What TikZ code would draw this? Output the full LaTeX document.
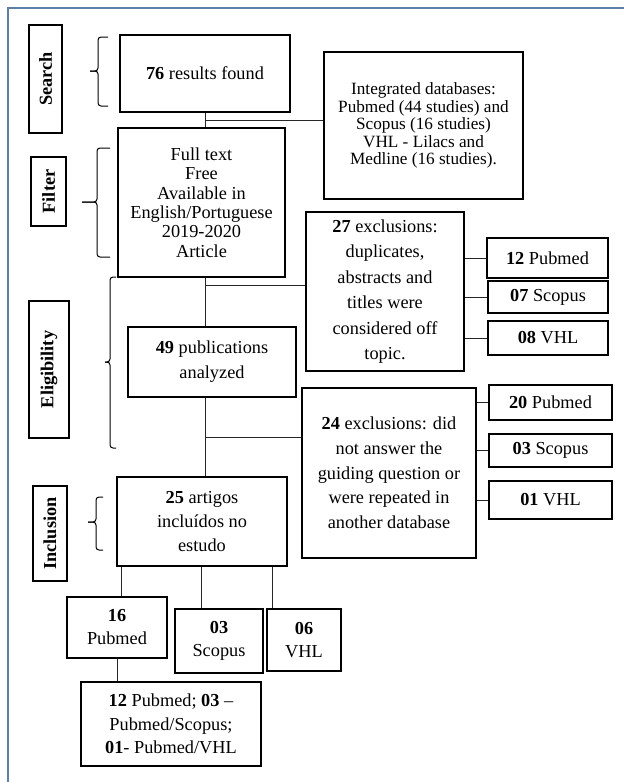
\documentclass[tikz,border=0pt]{standalone}
\usepackage{fontspec}
\setmainfont{Liberation Serif}
\usetikzlibrary{calc}
\definecolor{frameblue}{RGB}{91,127,166}
\newcommand\fsz[1]{\fontsize{18.3}{#1}\selectfont}
\newcommand\mybrace[6]{%
  \draw[bracestyle] (#2,#4) -- (#1,#4) -- (#1,#5) -- (#3,#5);
  \draw[bracestyle] (#3,#5) -- (#1,#5) -- (#1,#6) -- (#2,#6);}
\tikzset{
  box/.style={draw=black, line width=1.2pt, fill=white, inner sep=0pt, align=center, font=\fsz{25}},
  lbl/.style={draw=black, line width=1.2pt, fill=white, inner sep=0pt, rotate=90, font=\fsz{22}\bfseries},
  conn/.style={line width=1pt, draw=black!85},
  bracestyle/.style={line width=1pt, draw=black, rounded corners=3pt}
}
\begin{document}
\begin{tikzpicture}[x=1pt,y=-1pt]
\useasboundingbox (0,0) rectangle (624,782);
\draw[frameblue, line width=1.2pt] (8,782) -- (8,8) -- (624,8);

% stage labels
\node[lbl, minimum width=108, minimum height=33] (lsearch) at (45.5,79) {Search};
\node[lbl, minimum width=69, minimum height=35] (lfilter) at (48.5,191.5) {Filter};
\node[lbl, minimum width=137, minimum height=40] (lelig) at (49,369.5) {Eligibility};
\node[lbl, minimum width=95, minimum height=34] (lincl) at (50,533.5) {Inclusion};

% braces
\mybrace{98}{108}{90}{37}{71}{106}
\mybrace{97}{110}{82}{148}{202}{257}
\mybrace{110}{116}{105}{277}{362}{448}
\mybrace{96}{103}{88}{497}{522}{550}

% main boxes
\node[box, minimum width=170, minimum height=77] (s1) at (205,73.5) {\textbf{76} results found};
\node[box, minimum width=199, minimum height=147, font=\fontsize{17.2}{17.6}\selectfont] (int) at (423.5,125.5)
  {Integrated databases:\\Pubmed (44 studies) and\\Scopus (16 studies)\\VHL - Lilacs and\\Medline (16 studies).};
\node[box, minimum width=167, minimum height=149, font=\fsz{19.4}] (filt) at (201.5,202.5)
  {Full text\\Free\\Available in\\English/Portuguese\\2019-2020\\Article};
\node[box, minimum width=158, minimum height=159, font=\fsz{25.5}] (ex27) at (385,291.5)
  {\textbf{27} exclusions:\\duplicates,\\abstracts and\\titles were\\considered off\\topic.};
\node[box, minimum width=121, minimum height=40] (p12) at (547.5,258) {\textbf{12} Pubmed};
\node[box, minimum width=120, minimum height=32] (s07) at (548,297) {\textbf{07} Scopus};
\node[box, minimum width=120, minimum height=34] (v08) at (548,338) {\textbf{08} VHL};
\node[box, minimum width=168, minimum height=70] (b49) at (212,362) {\textbf{49} publications\\analyzed};
\node[box, minimum width=174, minimum height=170, font=\fsz{24.7}] (ex24) at (389,473)
  {\textbf{24} exclusions: did\\not answer the\\guiding question or\\were repeated in\\another database};
\node[box, minimum width=123, minimum height=35] (p20) at (550.5,402.5) {\textbf{20} Pubmed};
\node[box, minimum width=123, minimum height=33] (s03) at (550.5,450.5) {\textbf{03} Scopus};
\node[box, minimum width=123, minimum height=38] (v01) at (550.5,500) {\textbf{01} VHL};
\node[box, minimum width=170, minimum height=89, font=\fsz{23.7}] (b25) at (202,521.5)
  {\textbf{25} artigos\\incluídos no\\estudo};
\node[box, minimum width=100, minimum height=61, font=\fsz{23}] (p16) at (117,627.5) {\textbf{16}\\Pubmed};
\node[box, minimum width=88, minimum height=64, font=\fsz{23}] (sc03) at (219,641) {\textbf{03}\\Scopus};
\node[box, minimum width=74, minimum height=62, font=\fsz{23}] (vh06) at (304,640) {\textbf{06}\\VHL};
\node[box, minimum width=180, minimum height=84, font=\fsz{23.5}] (fin) at (171,724)
  {\textbf{12} Pubmed; \textbf{03} –\\Pubmed/Scopus;\\\textbf{01}- Pubmed/VHL};

% spine connectors
\coordinate (sp) at (205,0);
\draw[conn] (s1.south) -- (s1.south |- filt.north);
\coordinate (j1) at (205,120);
\draw[conn] (j1) -- (j1 -| int.west);
\draw[conn] (sp |- filt.south) -- (sp |- b49.north);
\coordinate (j2) at (205,285);
\draw[conn] (j2) -- (j2 -| ex27.west);
\draw[conn] (sp |- b49.south) -- (sp |- b25.north);
\coordinate (j3) at (205,437);
\draw[conn] (j3) -- (j3 -| ex24.west);

% right side connectors
\draw[conn] (ex27.east |- p12.west) -- (p12.west);
\draw[conn] (ex27.east |- s07.west) -- (s07.west);
\draw[conn] (ex27.east |- v08.west) -- (v08.west);
\draw[conn] (ex24.east |- p20.west) -- (p20.west);
\draw[conn] (ex24.east |- s03.west) -- (s03.west);
\draw[conn] (ex24.east |- v01.west) -- (v01.west);

% bottom connectors
\coordinate (x1) at (121,0);
\coordinate (x2) at (201,0);
\coordinate (x3) at (272,0);
\draw[conn] (x1 |- b25.south) -- (x1 |- p16.north);
\draw[conn] (x2 |- b25.south) -- (x2 |- sc03.north);
\draw[conn] (x3 |- b25.south) -- (x3 |- vh06.north);
\draw[conn] (p16.south) -- (p16.south |- fin.north);
\end{tikzpicture}
\end{document}
